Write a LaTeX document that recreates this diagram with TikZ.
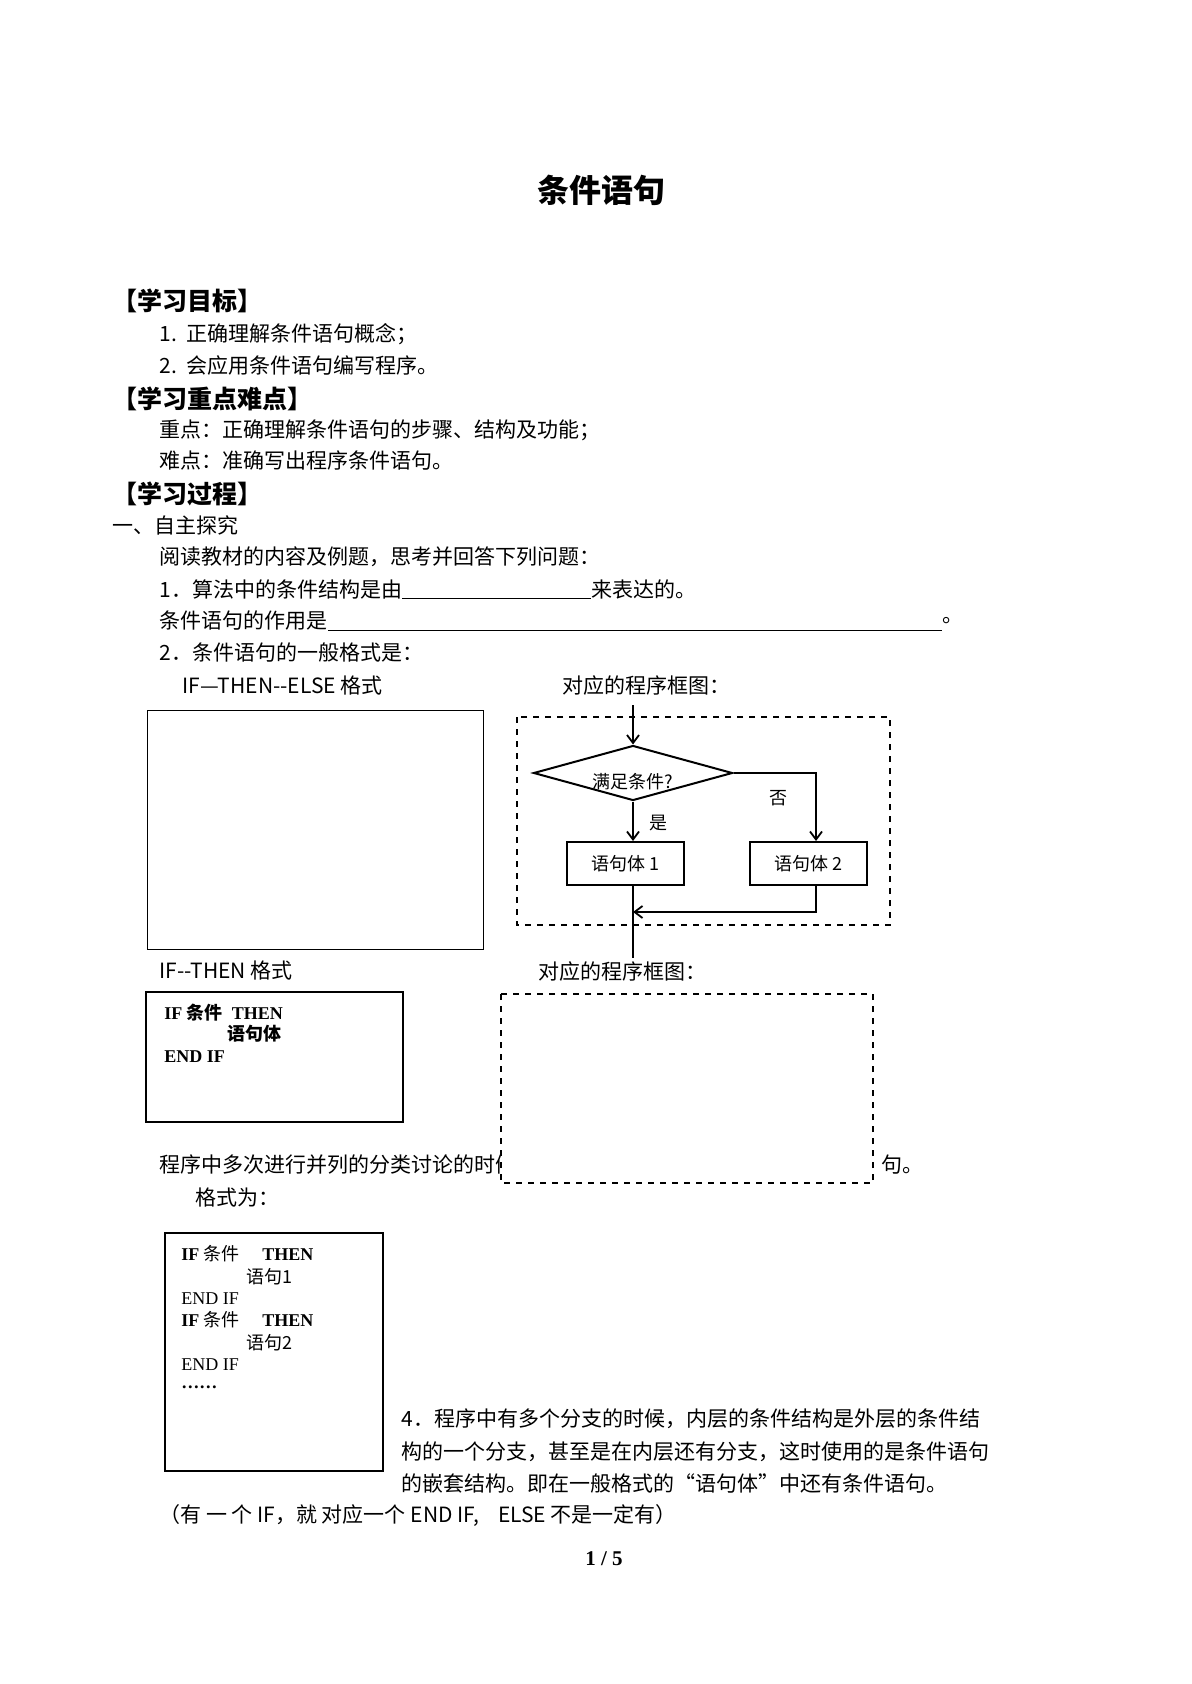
\documentclass[tikz,border=0pt]{standalone}
\usepackage{fontspec}
\setmainfont{Liberation Serif}
\newfontfamily\cjk{Noto Sans CJK SC}
\usetikzlibrary{shapes.geometric,arrows.meta}

\tikzset{
    txt/.style={anchor=west, inner sep=0pt, font=\cjk\fontsize{10.5}{12}\selectfont},
    head/.style={anchor=west, inner sep=0pt, font=\cjk\bfseries\fontsize{12.5}{14}\selectfont},
    code/.style={anchor=west, inner sep=0pt, font=\fontsize{9}{10}\selectfont},
    stmt/.style={draw, line width=1pt, minimum width=58.5pt, minimum height=21.5pt, inner sep=0pt, font=\cjk\fontsize{9}{10}\selectfont},
    flow/.style={line width=0.9pt, -{Straight Barb[length=4pt,width=6pt]}}
}

\begin{document}
\begin{tikzpicture}[x=0.5pt, y=-0.5pt]
    \useasboundingbox (0,0) rectangle (1191,1684);

    \node [font=\cjk\bfseries\fontsize{16}{18}\selectfont] (title) at (601,190) {条件语句};

    \node [head] (goal) at (112,301) {【学习目标】};
    \node [txt] (g1) at (159,334) {1.\ \ 正确理解条件语句概念；};
    \node [txt] (g2) at (159,366) {2.\ \ 会应用条件语句编写程序。};
    \node [head] (key) at (112,399) {【学习重点难点】};
    \node [txt] (k1) at (159,430) {重点：正确理解条件语句的步骤、结构及功能；};
    \node [txt] (k2) at (159,461) {难点：准确写出程序条件语句。};
    \node [head] (proc) at (112,494) {【学习过程】};
    \node [txt] (p0) at (112,525) {一、自主探究};
    \node [txt] (p1) at (159,557) {阅读教材的内容及例题，思考并回答下列问题：};
    \node [txt] (q1) at (159,589) {1．算法中的条件结构是由};
    \node [txt] (q1e) at (591,589) {来表达的。};
    \draw (q1.east |- 0,598) -- (591,598);
    \node [txt] (q1b) at (159,621) {条件语句的作用是};
    \node [txt] (q1f) at (942,621) {。};
    \draw (q1b.east |- 0,630) -- (942,630);
    \node [txt] (q2) at (159,653) {2．条件语句的一般格式是：};
    \node [txt] (fmt1) at (182,686) {IF—THEN--ELSE 格式};
    \node [txt] (map1) at (562,686) {对应的程序框图：};

    % IF-THEN-ELSE
    \draw (147,710) rectangle (483,949);
    \draw [dashed, line width=0.8pt] (517,717) rectangle (890,925);
    \coordinate (in) at (633,705);
    \node [diamond, draw, line width=1pt, aspect=3.6, minimum width=99.5pt, minimum height=27.5pt, inner sep=0pt] (cond) at (633,773) {};
    \node [font=\cjk\fontsize{9}{10}\selectfont] at (633,782) {满足条件?};
    \node [stmt] (s1) at (625.5,863.5) {语句体 1};
    \node [stmt] (s2) at (808,863.5) {语句体 2};
    \node [font=\cjk\fontsize{9}{10}\selectfont] at (658,823) {是};
    \node [font=\cjk\fontsize{9}{10}\selectfont] at (778,798) {否};
    \coordinate (out) at (633,958);
    \draw [flow] (in) -- (cond.north);
    \draw [flow] (cond.south) -- (s1.north -| cond.south);
    \draw [flow] (cond.east) -| (s2.north -| 816,0);
    \draw [line width=0.9pt] (s1.south -| cond.south) -- (out);
    \draw [flow] (s2.south -| 816,0) |- (633,912);

    \node [txt] (fmt2) at (159,971) {IF--THEN 格式};
    \node [txt] (map2) at (538,971) {对应的程序框图：};
    \draw [line width=1.2pt] (146,992) rectangle (403,1122);
    \node [code, font=\bfseries\fontsize{9}{10}\selectfont] at (164,1013) {IF {\cjk 条件}\ \ THEN};
    \node [code, font=\cjk\bfseries\fontsize{9}{10}\selectfont] at (227,1034) {语句体};
    \node [code, font=\bfseries\fontsize{9}{10}\selectfont] at (164,1057) {END IF};

    \node [txt] (q3) at (159,1165) {程序中多次进行并列的分类讨论的时候};
    \draw [dashed, line width=0.8pt, fill=white] (501,994) rectangle (873,1183);
    \node [txt] (q3e) at (881,1165) {句。};
    \node [txt] (fmt3) at (195,1198) {格式为：};

    \draw [line width=1.2pt] (165,1233) rectangle (383,1471);
    \node [code] at (181,1254) {\textbf{IF} {\cjk 条件}\quad\ \textbf{THEN}};
    \node [code, font=\cjk\fontsize{9}{10}\selectfont] at (246,1277) {语句1};
    \node [code] at (181,1299) {END\ IF};
    \node [code] at (181,1320) {\textbf{IF} {\cjk 条件}\quad\ \textbf{THEN}};
    \node [code, font=\cjk\fontsize{9}{10}\selectfont] at (246,1343) {语句2};
    \node [code] at (181,1365) {END\ IF};
    \node [code, font=\bfseries\fontsize{9}{10}\selectfont] at (181,1387) {……};

    \node [txt] (q4a) at (401,1419) {4．程序中有多个分支的时候，内层的条件结构是外层的条件结};
    \node [txt] (q4b) at (401,1452) {构的一个分支，甚至是在内层还有分支，这时使用的是条件语句};
    \node [txt] (q4c) at (401,1483) {的嵌套结构。即在一般格式的“语句体”中还有条件语句。};
    \node [txt] (note) at (159,1515) {（有\ 一\ 个 IF，就\ 对应一个\ END IF,\ \ \ \ ELSE 不是一定有）};

    \node [font=\bfseries\fontsize{10.5}{12}\selectfont] (page) at (604,1559) {1 / 5};
\end{tikzpicture}
\end{document}
